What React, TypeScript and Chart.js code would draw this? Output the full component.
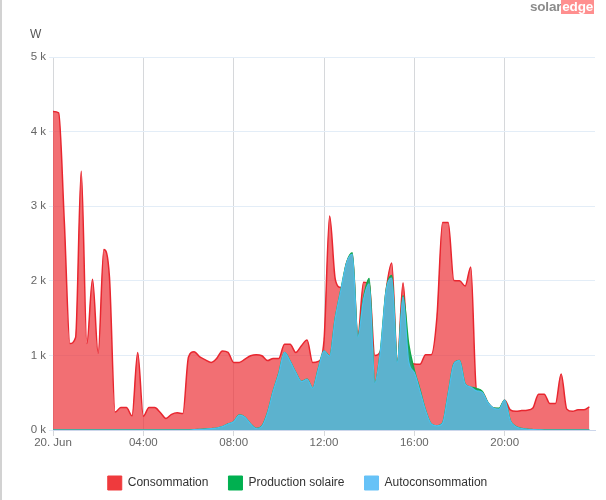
import React, { useEffect, useRef } from "react";
import { Chart, registerables } from "chart.js";

Chart.register(...registerables);

// 15-minute samples, 20 June, 00:00 .. 23:45 (W)
const consumption = [
  4270, 4250, 2800, 1160, 1240, 3470, 1160, 2020, 1030, 2420, 2050, 240,
  300, 300, 190, 1040, 185, 300, 300, 235, 155, 210, 230, 220,
  980, 1050, 980, 940, 905, 960, 1060, 1040, 905, 905, 950, 995,
  1010, 995, 930, 960, 960, 1150, 1150, 1040, 1130, 1205, 905, 920,
  1200, 2870, 2020, 1910, 2240, 2355, 1260, 1980, 1960, 1000, 1060, 1865,
  2240, 905, 1975, 920, 885, 880, 1010, 1010, 1510, 2780, 2780, 2005,
  2000, 1930, 2185, 540, 510, 370, 295, 285, 400, 270, 250, 260,
  265, 295, 480, 480, 355, 355, 750, 280, 250, 270, 270, 310,
];

const production = [
  0, 0, 0, 0, 0, 0, 0, 0, 0, 0, 0, 0,
  0, 0, 0, 0, 0, 0, 0, 0, 0, 0, 0, 0,
  0, 5, 8, 12, 18, 25, 45, 80, 110, 200, 170, 80,
  20, 50, 230, 520, 760, 1040, 920, 770, 650, 680, 560, 820,
  1060, 990, 1500, 1880, 2240, 2375, 1250, 1770, 2030, 630, 1060, 1865,
  2070, 905, 1800, 1150, 800, 540, 260, 80, 55, 90, 485, 885,
  930, 615, 575, 555, 520, 370, 295, 290, 400, 125, 45, 20,
  10, 5, 2, 0, 0, 0, 0, 0, 0, 0, 0, 0,
];

const selfConsumption = [
  0, 0, 0, 0, 0, 0, 0, 0, 0, 0, 0, 0,
  0, 0, 0, 0, 0, 0, 0, 0, 0, 0, 0, 0,
  0, 5, 8, 12, 18, 25, 45, 80, 110, 200, 170, 80,
  20, 50, 230, 520, 760, 1040, 920, 770, 650, 680, 560, 820,
  1060, 990, 1500, 1880, 2240, 2355, 1250, 1750, 1960, 630, 1060, 1865,
  2035, 905, 1785, 920, 770, 525, 260, 80, 55, 90, 485, 885,
  930, 615, 575, 525, 505, 370, 295, 280, 400, 125, 45, 20,
  10, 5, 2, 0, 0, 0, 0, 0, 0, 0, 0, 0,
];

const seriesNames = ["Consommation", "Production solaire", "Autoconsommation"];
const legendColors = ["#ef3a3d", "#00b050", "#66c2f7"];
const xTickLabels = ["20. Jun", "04:00", "08:00", "12:00", "16:00", "20:00"];
const yTickLabels = ["0 k", "1 k", "2 k", "3 k", "4 k", "5 k"];

const FONT = "'Liberation Sans', Arial, sans-serif";

function toPoints(values: number[]) {
  return values.map((v, i) => ({ x: i / 4, y: v }));
}

export default function App() {
  const canvasRef = useRef<HTMLCanvasElement | null>(null);

  useEffect(() => {
    if (!canvasRef.current) return;
    const chart = new Chart(canvasRef.current, {
      type: "line",
      data: {
        datasets: [
          {
            label: seriesNames[0],
            data: toPoints(consumption),
            borderColor: "#e8262f",
            backgroundColor: "rgba(237,50,55,0.7)",
            borderWidth: 1.5,
            fill: "origin",
            pointRadius: 0,
            cubicInterpolationMode: "monotone",
            order: 3,
          },
          {
            label: seriesNames[1],
            data: toPoints(production),
            borderColor: "#12a848",
            backgroundColor: "rgb(40,160,110)",
            borderWidth: 1.5,
            fill: "origin",
            pointRadius: 0,
            cubicInterpolationMode: "monotone",
            order: 2,
          },
          {
            label: seriesNames[2],
            data: toPoints(selfConsumption),
            borderColor: "#4cc0ee",
            backgroundColor: "rgb(92,178,206)",
            borderWidth: 1.2,
            fill: "origin",
            pointRadius: 0,
            cubicInterpolationMode: "monotone",
            order: 1,
          },
        ],
      },
      options: {
        animation: false,
        responsive: true,
        maintainAspectRatio: false,
        layout: { padding: { top: 57, right: 11, left: 0, bottom: 0 } },
        plugins: {
          tooltip: { enabled: false },
          legend: {
            position: "bottom",
            labels: {
              boxWidth: 14,
              boxHeight: 14,
              padding: 20,
              color: "#333",
              font: { family: FONT, size: 12 },
              generateLabels: () =>
                seriesNames.map((name, i) => ({
                  text: name,
                  fillStyle: legendColors[i],
                  strokeStyle: legendColors[i],
                  lineWidth: 1,
                  datasetIndex: i,
                  hidden: false,
                  fontColor: "#333",
                })),
            },
          },
        },
        scales: {
          x: {
            type: "linear",
            min: 0,
            max: 24,
            afterBuildTicks: (scale: any) => {
              scale.ticks = [0, 4, 8, 12, 16, 20].map((v) => ({ value: v }));
            },
            afterFit: (scale: any) => {
              scale.height = 26;
            },
            ticks: {
              autoSkip: false,
              maxRotation: 0,
              padding: 0,
              color: "#666",
              font: { family: FONT, size: 11.5 },
              callback: (v: any) => xTickLabels[Math.round(Number(v) / 4)] ?? "",
            },
            grid: {
              color: "#d6d8db",
              lineWidth: 1,
              drawTicks: true,
              tickLength: 6,
            },
            border: { display: true, color: "#ccd6eb", width: 1 },
          },
          y: {
            min: 0,
            max: 5000,
            afterFit: (scale: any) => {
              scale.width = 53;
            },
            ticks: {
              stepSize: 1000,
              padding: 3,
              color: "#666",
              font: { family: FONT, size: 11.5 },
              callback: (v: any) => yTickLabels[Math.round(Number(v) / 1000)] ?? "",
            },
            grid: {
              color: "#e3edf7",
              lineWidth: 1,
              drawTicks: true,
              tickLength: 4,
            },
            border: { display: false },
          },
        },
      },
    } as any);
    return () => chart.destroy();
  }, []);

  return (
    <div
      style={{
        position: "fixed",
        left: 0,
        top: 0,
        width: 606,
        height: 500,
        background: "#fff",
        fontFamily: FONT,
      }}
    >
      <div
        style={{
          position: "absolute",
          left: 0,
          top: 0,
          width: 2,
          height: 500,
          background: "#d2d2d2",
        }}
      />
      <div
        style={{
          position: "absolute",
          left: 30,
          top: 27,
          fontSize: 12,
          color: "#555",
        }}
      >
        W
      </div>
      <div
        style={{
          position: "absolute",
          right: 12,
          top: 0,
          fontSize: 13.5,
          fontWeight: "bold",
          letterSpacing: -0.2,
          lineHeight: "14px",
          display: "flex",
        }}
      >
        <span style={{ color: "#8c8c8c" }}>solar</span>
        <span style={{ color: "#fff", background: "#ff8f8f", padding: "0 1px" }}>edge</span>
      </div>
      <div style={{ position: "absolute", left: 0, top: 0, width: 606, height: 500 }}>
        <canvas ref={canvasRef} />
      </div>
    </div>
  );
}
